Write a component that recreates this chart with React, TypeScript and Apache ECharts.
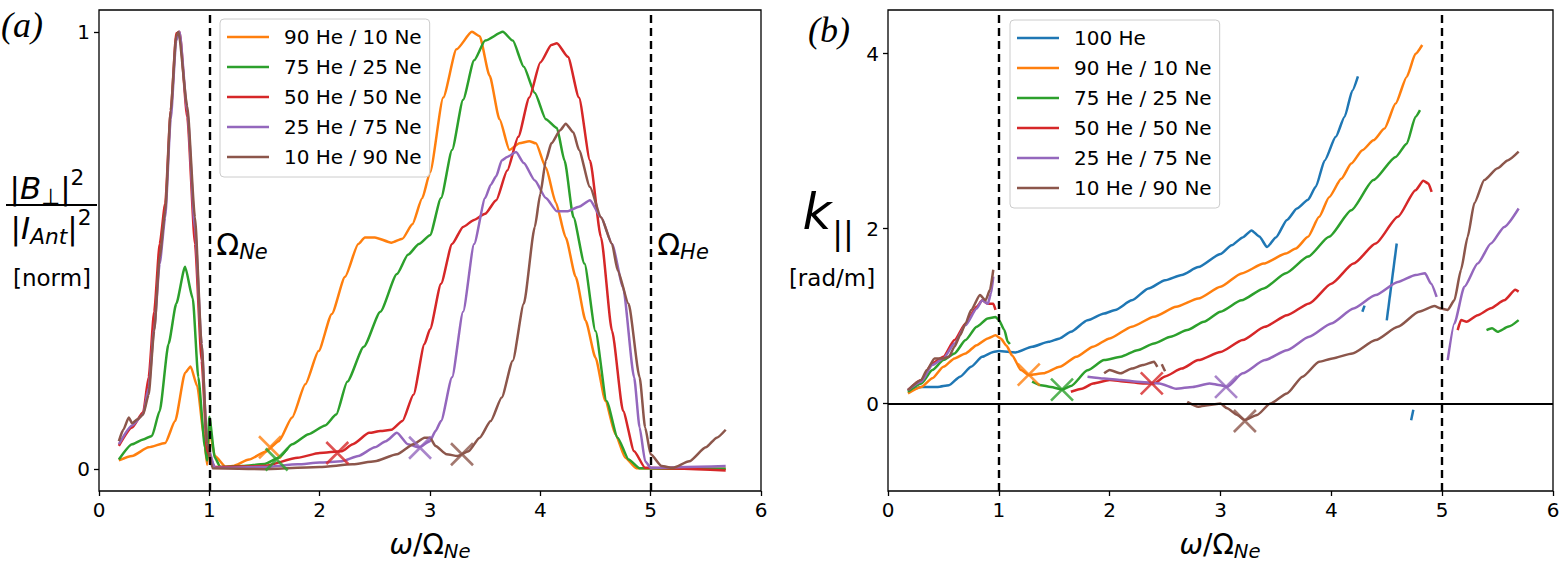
import React, { useEffect, useRef } from "react";
import * as echarts from "echarts";

type Pt = [number, number];

const FONT = "DejaVu Sans";

// legend names and colours (matplotlib tab10)
const mixNames = ["100 He", "90 He / 10 Ne", "75 He / 25 Ne", "50 He / 50 Ne", "25 He / 75 Ne", "10 He / 90 Ne"];
const mixColors = ["#1f77b4", "#ff7f0e", "#2ca02c", "#d62728", "#9467bd", "#8c564b"];

const xTicks = [0, 1, 2, 3, 4, 5, 6];
const aYTicks = [0, 1];
const bYTicks = [0, 2, 4];
const resonances = [1, 5]; // Omega_Ne, Omega_He

// ---- panel (a): normalised |B_perp|^2 / |I_ant|^2 ----
const a90: Pt[][] = [[
  [0.18, 0.02], [0.3, 0.03], [0.45, 0.05], [0.6, 0.06], [0.69, 0.11], [0.78, 0.22], [0.83, 0.235], [0.89, 0.19],
  [0.95, 0.08], [0.98, 0.01], [1.0, 0.09], [1.05, 0.03], [1.15, 0.005], [1.21, 0.007], [1.36, 0.022], [1.51, 0.04],
  [1.63, 0.064], [1.75, 0.118], [1.87, 0.194], [1.99, 0.27], [2.11, 0.355], [2.23, 0.44], [2.35, 0.515], [2.41, 0.53],
  [2.5, 0.53], [2.65, 0.518], [2.75, 0.527], [2.84, 0.56], [2.93, 0.62], [3.0, 0.678], [3.12, 0.85], [3.24, 0.96],
  [3.38, 1.0], [3.45, 0.99], [3.54, 0.9], [3.63, 0.8], [3.72, 0.73], [3.81, 0.745], [3.9, 0.75], [3.96, 0.745],
  [4.05, 0.69], [4.14, 0.61], [4.23, 0.53], [4.32, 0.44], [4.41, 0.34], [4.5, 0.255], [4.59, 0.156], [4.68, 0.08],
  [4.77, 0.026], [4.87, 0.002], [5.2, 0.001], [5.68, 0.001],
]];
const a75: Pt[][] = [[
  [0.18, 0.022], [0.3, 0.057], [0.4, 0.068], [0.48, 0.076], [0.55, 0.133], [0.63, 0.286], [0.7, 0.378], [0.78, 0.463],
  [0.85, 0.39], [0.9, 0.21], [0.96, 0.05], [0.98, 0.02], [1.0, 0.12], [1.05, 0.026], [1.1, 0.005], [1.3, 0.007],
  [1.5, 0.012], [1.63, 0.026], [1.75, 0.057], [1.9, 0.08], [2.05, 0.1], [2.15, 0.125], [2.25, 0.2], [2.4, 0.28],
  [2.55, 0.36], [2.7, 0.446], [2.8, 0.49], [2.9, 0.515], [3.0, 0.535], [3.1, 0.62], [3.2, 0.73], [3.3, 0.845],
  [3.4, 0.935], [3.5, 0.98], [3.66, 1.0], [3.75, 0.98], [3.85, 0.92], [3.95, 0.86], [4.05, 0.8], [4.15, 0.78],
  [4.22, 0.705], [4.3, 0.576], [4.4, 0.47], [4.5, 0.316], [4.6, 0.156], [4.7, 0.072], [4.8, 0.022], [4.9, 0.002],
  [5.68, 0.001],
]];
const a50: Pt[][] = [[
  [0.18, 0.053], [0.3, 0.095], [0.4, 0.13], [0.45, 0.21], [0.5, 0.36], [0.55, 0.515], [0.6, 0.607], [0.65, 0.82],
  [0.7, 0.997], [0.73, 1.0], [0.8, 0.805], [0.87, 0.515], [0.93, 0.248], [0.98, 0.041], [1.05, 0.005], [1.5, 0.007],
  [1.8, 0.026], [2.0, 0.037], [2.2, 0.041], [2.3, 0.057], [2.45, 0.083], [2.55, 0.087], [2.65, 0.09], [2.75, 0.11],
  [2.85, 0.17], [2.95, 0.286], [3.0, 0.32], [3.1, 0.424], [3.2, 0.515], [3.3, 0.554], [3.4, 0.57], [3.5, 0.584],
  [3.6, 0.615], [3.7, 0.683], [3.8, 0.76], [3.9, 0.85], [4.0, 0.93], [4.1, 0.97], [4.15, 0.974], [4.25, 0.943],
  [4.35, 0.85], [4.45, 0.706], [4.55, 0.53], [4.65, 0.316], [4.75, 0.133], [4.85, 0.041], [4.95, 0.003], [5.68, -0.003],
]];
const a25: Pt[][] = [[
  [0.18, 0.057], [0.3, 0.1], [0.4, 0.125], [0.45, 0.186], [0.5, 0.32], [0.55, 0.47], [0.6, 0.576], [0.65, 0.8],
  [0.7, 0.98], [0.73, 1.0], [0.8, 0.82], [0.87, 0.55], [0.93, 0.286], [0.98, 0.057], [1.05, 0.003], [1.5, 0.005],
  [1.8, 0.011], [2.0, 0.015], [2.2, 0.018], [2.35, 0.03], [2.5, 0.05], [2.6, 0.064], [2.7, 0.083], [2.8, 0.057],
  [2.9, 0.05], [3.0, 0.064], [3.05, 0.087], [3.1, 0.11], [3.2, 0.21], [3.3, 0.36], [3.4, 0.515], [3.5, 0.62],
  [3.55, 0.65], [3.6, 0.67], [3.65, 0.706], [3.7, 0.714], [3.78, 0.725], [3.85, 0.7], [3.95, 0.66], [4.05, 0.62],
  [4.15, 0.59], [4.25, 0.59], [4.35, 0.6], [4.45, 0.615], [4.55, 0.576], [4.65, 0.515], [4.75, 0.416], [4.85, 0.21],
  [4.9, 0.095], [4.95, 0.018], [5.0, 0.003], [5.68, 0.007],
]];
const a10: Pt[][] = [[
  [0.18, 0.064], [0.22, 0.09], [0.27, 0.118], [0.3, 0.105], [0.35, 0.114], [0.4, 0.125], [0.45, 0.17], [0.5, 0.316],
  [0.55, 0.485], [0.6, 0.59], [0.65, 0.82], [0.7, 0.99], [0.72, 1.0], [0.8, 0.83], [0.87, 0.576], [0.93, 0.286],
  [0.98, 0.057], [1.03, 0.002], [1.5, 0.0], [2.0, 0.005], [2.3, 0.011], [2.5, 0.018], [2.7, 0.034], [2.85, 0.057],
  [2.95, 0.072], [3.0, 0.072], [3.05, 0.053], [3.15, 0.034], [3.25, 0.03], [3.35, 0.041], [3.45, 0.072], [3.55, 0.11],
  [3.65, 0.164], [3.75, 0.248], [3.85, 0.378], [3.95, 0.554], [4.0, 0.63], [4.05, 0.706], [4.1, 0.745], [4.18, 0.775],
  [4.23, 0.79], [4.3, 0.77], [4.35, 0.73], [4.45, 0.645], [4.55, 0.576], [4.65, 0.515], [4.7, 0.455], [4.8, 0.378],
  [4.9, 0.21], [4.95, 0.095], [5.0, 0.034], [5.1, 0.007], [5.2, 0.003], [5.35, 0.018], [5.5, 0.05], [5.6, 0.072],
  [5.68, 0.09],
]];
// crosses on panel (a): orange, green, red, purple, brown
const aCrossX = [1.55, 1.61, 2.16, 2.91, 3.29];
const aCrossY = [0.05, 0.022, 0.037, 0.049, 0.034];

// ---- panel (b): k_parallel [rad/m] ----
const b100: Pt[][] = [
  [
    [0.18, 0.135], [0.3, 0.19], [0.45, 0.19], [0.55, 0.21], [0.65, 0.307], [0.75, 0.42], [0.85, 0.535], [0.95, 0.59],
    [1.0, 0.6], [1.15, 0.585], [1.3, 0.65], [1.45, 0.707], [1.55, 0.745], [1.65, 0.82], [1.8, 0.953], [1.95, 1.03],
    [2.05, 1.07], [2.2, 1.18], [2.35, 1.316], [2.5, 1.41], [2.65, 1.47], [2.8, 1.56], [3.0, 1.71], [3.1, 1.81],
    [3.2, 1.9], [3.28, 1.98], [3.35, 1.91], [3.42, 1.79], [3.5, 1.9], [3.6, 2.1], [3.69, 2.23], [3.79, 2.33],
    [3.86, 2.48], [3.94, 2.78], [4.04, 3.05], [4.12, 3.28], [4.19, 3.58], [4.24, 3.74],
  ],
  [[4.28, 1.05], [4.3, 1.12]],
  [[4.5, 0.95], [4.59, 1.83]],
  [[4.72, -0.19], [4.74, -0.07]],
];
const b90: Pt[][] = [[
  [0.18, 0.116], [0.3, 0.19], [0.4, 0.29], [0.5, 0.42], [0.6, 0.516], [0.7, 0.573], [0.8, 0.668], [0.9, 0.745],
  [0.97, 0.78], [1.02, 0.74], [1.07, 0.66], [1.12, 0.55], [1.2, 0.383], [1.27, 0.326], [1.4, 0.345], [1.55, 0.42],
  [1.7, 0.535], [1.85, 0.65], [2.0, 0.745], [2.2, 0.878], [2.4, 0.992], [2.6, 1.106], [2.8, 1.2], [3.0, 1.335],
  [3.19, 1.488], [3.39, 1.6], [3.59, 1.716], [3.68, 1.773], [3.79, 1.907], [3.89, 2.135], [3.98, 2.36], [4.09, 2.57],
  [4.18, 2.745], [4.28, 2.897], [4.38, 3.01], [4.48, 3.145], [4.58, 3.43], [4.68, 3.735], [4.76, 4.0], [4.82, 4.1],
]];
const b75: Pt[][] = [
  [
    [0.18, 0.135], [0.3, 0.23], [0.4, 0.383], [0.5, 0.497], [0.6, 0.573], [0.7, 0.726], [0.8, 0.878], [0.9, 0.973],
    [0.97, 0.99], [1.0, 0.954], [1.05, 0.84], [1.08, 0.707], [1.1, 0.68],
  ],
  [
    [1.3, 0.25], [1.38, 0.21], [1.47, 0.19], [1.57, 0.16], [1.65, 0.2], [1.8, 0.38], [1.95, 0.497], [2.1, 0.535],
    [2.25, 0.61], [2.4, 0.688], [2.55, 0.764], [2.7, 0.84], [2.85, 0.935], [3.0, 1.05], [3.19, 1.18], [3.39, 1.316],
    [3.59, 1.49], [3.79, 1.68], [3.98, 1.907], [4.18, 2.21], [4.38, 2.555], [4.58, 2.82], [4.68, 2.97], [4.76, 3.28],
    [4.8, 3.355],
  ],
  [[5.4, 0.84], [5.45, 0.86], [5.5, 0.82], [5.6, 0.88], [5.69, 0.954]],
];
const b50: Pt[][] = [
  [
    [0.18, 0.154], [0.3, 0.27], [0.4, 0.46], [0.5, 0.535], [0.6, 0.726], [0.7, 0.916], [0.8, 1.106], [0.85, 1.18],
    [0.9, 1.14], [0.95, 1.14], [0.97, 1.07],
  ],
  [
    [1.65, 0.135], [1.75, 0.17], [1.85, 0.23], [2.0, 0.27], [2.15, 0.25], [2.3, 0.23], [2.4, 0.23], [2.5, 0.31],
    [2.65, 0.4], [2.8, 0.497], [3.0, 0.59], [3.2, 0.726], [3.4, 0.878], [3.6, 1.01], [3.8, 1.145], [4.0, 1.37],
    [4.2, 1.6], [4.4, 1.83], [4.6, 2.135], [4.76, 2.44], [4.83, 2.547], [4.875, 2.516], [4.905, 2.42],
  ],
  [[5.14, 0.84], [5.17, 0.954], [5.22, 0.935], [5.32, 1.01], [5.44, 1.09], [5.56, 1.18], [5.66, 1.3], [5.69, 1.28]],
];
const b25: Pt[][] = [
  [
    [0.18, 0.154], [0.3, 0.25], [0.4, 0.44], [0.5, 0.516], [0.6, 0.688], [0.7, 0.897], [0.8, 1.087], [0.85, 1.18],
    [0.9, 1.14], [0.93, 1.26], [0.95, 1.45],
  ],
  [
    [1.8, 0.307], [1.95, 0.287], [2.1, 0.27], [2.25, 0.25], [2.45, 0.23], [2.6, 0.17], [2.75, 0.19], [2.9, 0.23],
    [3.0, 0.21], [3.06, 0.19], [3.2, 0.345], [3.4, 0.497], [3.6, 0.61], [3.8, 0.764], [4.0, 0.916], [4.2, 1.087],
    [4.4, 1.24], [4.6, 1.39], [4.76, 1.47], [4.845, 1.49], [4.9, 1.37], [4.95, 1.22],
  ],
  [[5.05, 0.497], [5.11, 0.916], [5.2, 1.335], [5.32, 1.6], [5.44, 1.83], [5.56, 2.02], [5.69, 2.23]],
];
const b10: Pt[][] = [
  [
    [0.18, 0.154], [0.3, 0.27], [0.35, 0.383], [0.42, 0.516], [0.5, 0.516], [0.55, 0.535], [0.6, 0.65], [0.65, 0.78],
    [0.7, 0.916], [0.75, 1.07], [0.83, 1.24], [0.88, 1.18], [0.92, 1.3], [0.95, 1.53],
  ],
  [[1.95, 0.345], [2.0, 0.383], [2.1, 0.345], [2.2, 0.4], [2.3, 0.44], [2.4, 0.478], [2.43, 0.42]],
  [[2.47, 0.45], [2.5, 0.37]],
  [
    [2.7, 0.02], [2.8, -0.036], [2.9, -0.017], [3.0, 0.0], [3.06, -0.055], [3.15, -0.13], [3.22, -0.187], [3.33, -0.13],
    [3.45, 0.0], [3.6, 0.116], [3.74, 0.307], [3.89, 0.478], [4.01, 0.516], [4.19, 0.573], [4.4, 0.726], [4.6, 0.878],
    [4.79, 1.05], [4.93, 1.114], [4.99, 1.087], [5.05, 1.07], [5.11, 1.18], [5.17, 1.53], [5.23, 1.907], [5.29, 2.29],
    [5.38, 2.555], [5.5, 2.69], [5.59, 2.78], [5.69, 2.88],
  ],
];
// crosses on panel (b): orange, green, red, purple, brown
const bCrossX = [1.27, 1.57, 2.38, 3.05, 3.22];
const bCrossY = [0.33, 0.16, 0.23, 0.19, -0.2];

const aCurves = [a90, a75, a50, a25, a10];
const bCurves = [b100, b90, b75, b50, b25, b10];

const lineSeries = (name: string, color: string, segs: Pt[][], axis: number) =>
  segs.map((seg) => ({
    name,
    type: "line",
    xAxisIndex: axis,
    yAxisIndex: axis,
    data: seg,
    symbol: "none",
    showSymbol: false,
    smooth: 0.2,
    smoothMonotone: "x",
    color,
    lineStyle: { color, width: 2.5 },
    silent: true,
    z: 3,
  }));

const crossSeries = (xs: number[], ys: number[], axis: number) =>
  xs.map((x, i) => ({
    type: "scatter",
    xAxisIndex: axis,
    yAxisIndex: axis,
    data: [[x, ys[i]]],
    symbol: "path://M0 0L10 10M10 0L0 10",
    symbolSize: 22,
    itemStyle: { color: "none", borderColor: mixColors[i + 1], borderWidth: 2.6 },
    silent: true,
    z: 4,
  }));

const refLines = (axis: number, zero: boolean) => ({
  type: "line",
  xAxisIndex: axis,
  yAxisIndex: axis,
  data: [],
  markLine: {
    silent: true,
    symbol: "none",
    animation: false,
    label: { show: false },
    lineStyle: { color: "#000", type: [8, 5], width: 2.4 },
    data: [
      ...resonances.map((v) => ({ xAxis: v })),
      ...(zero ? [{ yAxis: 0, lineStyle: { color: "#000", type: "solid", width: 2.2 } }] : []),
    ],
  },
  z: 5,
});

const math = (base: number) => ({
  r: { fontFamily: FONT, fontSize: base, verticalAlign: "middle", fill: "#000" },
  i: { fontFamily: FONT, fontSize: base, fontStyle: "italic", verticalAlign: "middle", fill: "#000" },
  sub: { fontFamily: FONT, fontSize: base * 0.7, fontStyle: "italic", padding: [base * 0.55, 0, 0, 0], verticalAlign: "middle", fill: "#000" },
  subr: { fontFamily: FONT, fontSize: base * 0.7, padding: [base * 0.55, 0, 0, 0], verticalAlign: "middle", fill: "#000" },
  sup: { fontFamily: FONT, fontSize: base * 0.7, padding: [0, 0, base * 0.7, 0], verticalAlign: "middle", fill: "#000" },
});

const txt = (x: number, y: number, text: string, style: Record<string, unknown>) => ({
  type: "text",
  x,
  y,
  silent: true,
  z: 10,
  style: {
    text,
    fill: "#000",
    align: "center",
    verticalAlign: "middle",
    textAlign: "center",
    textVerticalAlign: "middle",
    ...style,
  },
});

const App: React.FC = () => {
  const chartRef = useRef<HTMLDivElement>(null);

  useEffect(() => {
    if (!chartRef.current) return;
    document.body.style.margin = "0";

    const chart = echarts.init(chartRef.current, undefined, { renderer: "svg" });

    const axisCommon = {
      axisLine: { show: false, onZero: false },
      axisTick: { show: true, inside: false, length: 5, lineStyle: { color: "#000", width: 1.3 } },
      axisLabel: { color: "#000", fontSize: 20, fontFamily: FONT, margin: 9 },
      splitLine: { show: false },
    };

    const legendCommon = {
      orient: "vertical",
      selectedMode: false,
      icon: "rect",
      itemWidth: 42,
      itemHeight: 2.5,
      itemGap: 10,
      padding: [8, 8, 10, 7],
      borderColor: "#cccccc",
      borderWidth: 1,
      borderRadius: 4,
      backgroundColor: "rgba(255,255,255,0.85)",
      textStyle: { color: "#000", fontSize: 20, fontFamily: FONT, lineHeight: 20, padding: [0, 0, 0, 10] },
    };

    const option: echarts.EChartsOption = {
      animation: false,
      backgroundColor: "#fff",
      textStyle: { fontFamily: FONT },
      grid: [
        { left: 99, top: 10, width: 662, height: 481, show: true, borderColor: "#000", borderWidth: 1.3, backgroundColor: "transparent" },
        { left: 888, top: 10, width: 665, height: 481, show: true, borderColor: "#000", borderWidth: 1.3, backgroundColor: "transparent" },
      ],
      xAxis: [0, 1].map((g) => ({
        type: "value",
        gridIndex: g,
        min: xTicks[0],
        max: xTicks[xTicks.length - 1],
        interval: 1,
        ...axisCommon,
      })) as any,
      yAxis: [
        {
          type: "value",
          gridIndex: 0,
          min: -0.05,
          max: 1.05,
          ...axisCommon,
          axisTick: { ...axisCommon.axisTick, customValues: aYTicks },
          axisLabel: { ...axisCommon.axisLabel, customValues: aYTicks },
        },
        {
          type: "value",
          gridIndex: 1,
          min: -1,
          max: 4.5,
          ...axisCommon,
          axisTick: { ...axisCommon.axisTick, customValues: bYTicks },
          axisLabel: { ...axisCommon.axisLabel, customValues: bYTicks },
        },
      ] as any,
      legend: [
        { ...legendCommon, left: 220, top: 19, data: mixNames.slice(1) },
        { ...legendCommon, left: 1010, top: 20, data: mixNames },
      ] as any,
      series: [
        refLines(0, false),
        refLines(1, true),
        ...aCurves.flatMap((segs, i) => lineSeries(mixNames[i + 1], mixColors[i + 1], segs, 0)),
        ...bCurves.flatMap((segs, i) => lineSeries(mixNames[i], mixColors[i], segs, 1)),
        ...crossSeries(aCrossX, aCrossY, 0),
        ...crossSeries(bCrossX, bCrossY, 1),
      ] as any,
      graphic: [
        txt(22, 25, "(a)", { font: "italic 36px 'Liberation Serif'" }),
        txt(829, 30, "(b)", { font: "italic 36px 'Liberation Serif'" }),
        // y label (a)
        txt(47, 188, "{r||}{i|B}{subr|⊥}{r||}{sup|2}", { rich: math(31) }),
        { type: "line", silent: true, z: 10, shape: { x1: 6, y1: 205, x2: 97, y2: 205 }, style: { stroke: "#000", lineWidth: 2 } },
        txt(51, 228, "{r||}{i|I}{sub|Ant}{r||}{sup|2}", { rich: math(31) }),
        txt(52, 278, "[norm]", { font: `23px '${FONT}'` }),
        // y label (b)
        txt(817, 212, "k", { font: `italic 50px '${FONT}'` }),
        txt(843, 233, "||", { font: `32px '${FONT}'` }),
        txt(832, 278, "[rad/m]", { font: `23px '${FONT}'` }),
        // resonance labels
        txt(242, 244, "{r|Ω}{sub|Ne}", { rich: math(30) }),
        txt(683, 244, "{r|Ω}{sub|He}", { rich: math(30) }),
        // x labels
        txt(430, 544, "{i|ω}{r|/Ω}{sub|Ne}", { rich: math(28) }),
        txt(1220, 544, "{i|ω}{r|/Ω}{sub|Ne}", { rich: math(28) }),
      ] as any,
    };

    chart.setOption(option);

    return () => {
      chart.dispose();
    };
  }, []);

  return <div ref={chartRef} style={{ width: "1563px", height: "562px" }} />;
};

export default App;
